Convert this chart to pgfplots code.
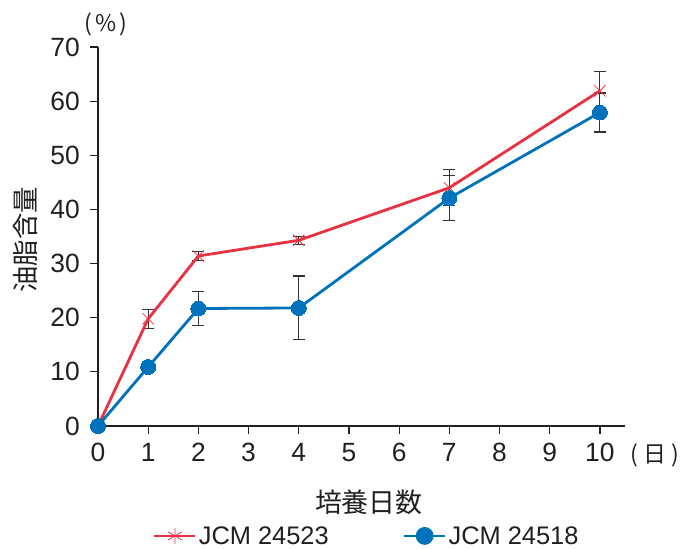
\documentclass[border=0pt]{standalone}
\usepackage{pgfplots}
\pgfplotsset{compat=1.18}
\usepackage{fontspec}
\setmainfont{Liberation Sans}
\newfontfamily\jp{Noto Sans CJK JP}
\definecolor{cred}{RGB}{232,50,66}
\definecolor{cblue}{RGB}{0,114,188}
\definecolor{ctext}{RGB}{35,31,32}
\definecolor{cerr}{RGB}{50,50,50}

\pgfplotstableread{
x y e
0 0 0
1 19.8 1.75
2 31.4 0.8
4 34.3 0.7
7 44.0 3.3
10 61.9 3.5
}\redtab
\pgfplotstableread{
x y e
0 0 0
1 10.9 0
2 21.7 3.1
4 21.8 5.9
7 42.1 4.1
10 57.9 3.6
}\bluetab

\begin{document}
\begin{tikzpicture}[x=1bp,y=1bp]
\useasboundingbox (-98,-123) rectangle (582,426);
\begin{axis}[
  at={(0,0)}, anchor=south west,
  scale only axis, width=527bp, height=379bp,
  xmin=0, xmax=10.5, ymin=0, ymax=70,
  axis x line=bottom, axis y line=left,
  axis line style={-, ctext},
  x axis line style={line width=2.6bp},
  y axis line style={line width=1.3bp},
  xtick={0,1,...,10}, ytick={0,10,...,70},
  tick align=outside, major tick length=8bp,
  tick style={ctext, line width=1.2bp},
  ticklabel style={font=\fontsize{26.5}{30}\selectfont, text=ctext, inner sep=4bp},
  yticklabel style={xshift=-6bp},
  xticklabel style={yshift=-5bp},
  /pgf/number format/assume math mode=true,
  clip=false,
  legend style={at={(0.51,-0.29)}, anchor=center, draw=none, fill=none,
    legend columns=2, font=\fontsize{25.5}{30}\selectfont, text=ctext,
    nodes={inner sep=2bp},
    /tikz/every even column/.append style={column sep=72bp}},
]
% error bars
\addplot[draw=none, mark=none, forget plot,
  error bars/.cd, y dir=both, y explicit,
  error bar style={cerr, line width=1.1bp},
  error mark options={cerr, rotate=90, mark size=6bp, line width=1.1bp}]
  table[x=x, y=y, y error=e] {\redtab};
\addplot[draw=none, mark=none, forget plot,
  error bars/.cd, y dir=both, y explicit,
  error bar style={cerr, line width=1.1bp},
  error mark options={cerr, rotate=90, mark size=6bp, line width=1.1bp}]
  table[x=x, y=y, y error=e] {\bluetab};
% series
\addplot[cred, line width=2.8bp, mark=x, mark size=8bp,
  mark options={line width=0.8bp, cred},
  legend image code/.code={
    \draw[cred, line width=2.8bp] (0bp,0bp) -- (41bp,0bp);
    \draw[cred, line width=0.9bp] plot[mark=asterisk, mark size=8bp] coordinates {(20.5bp,0bp)};
  }]
  table[x=x, y=y] {\redtab};
\addlegendentry{JCM 24523}
\addplot[cblue, line width=2.8bp, mark=*, mark size=7.5bp,
  mark options={cblue, line width=0bp},
  legend image code/.code={
    \draw[cblue, line width=2.8bp] (0bp,0bp) -- (41bp,0bp);
    \fill[cblue] (20.5bp,0bp) circle (7.5bp);
  }]
  table[x=x, y=y] {\bluetab};
\addlegendentry{JCM 24518}
% labels
\node[rotate=90, font=\jp\fontsize{26.5}{30}\selectfont, text=ctext] at (rel axis cs:-0.1385,0.491) {油脂含量};
\node[font=\jp\fontsize{27}{30}\selectfont, text=ctext] at (rel axis cs:0.514,-0.2005) {培養日数};
\node[font=\jp\fontsize{23}{26}\selectfont, text=ctext, inner sep=0pt] at (rel axis cs:0.0152,1.0607) {(\hspace{0.12em}\%\hspace{0.12em})};
\node[font=\jp\fontsize{23}{26}\selectfont, text=ctext, inner sep=0pt, anchor=east] at (rel axis cs:1.1025,-0.0765) {(\hspace{0.25em}日\hspace{0.2em})};
\end{axis}
\end{tikzpicture}
\end{document}
